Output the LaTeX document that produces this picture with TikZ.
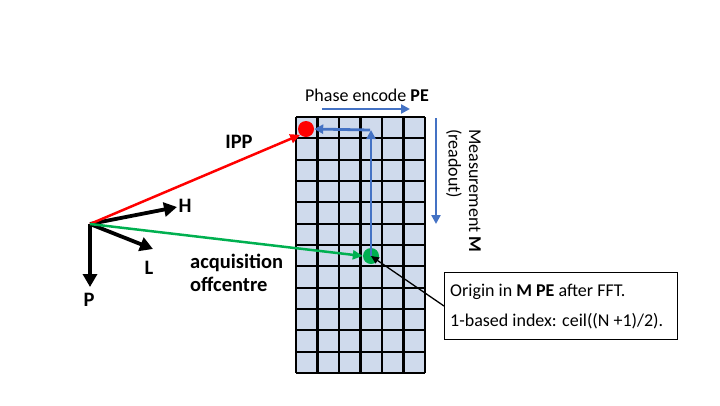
\documentclass[tikz,border=0pt]{standalone}
\usepackage{fontspec}
\setmainfont{Carlito}
\usetikzlibrary{arrows.meta}
\definecolor{gridfill}{HTML}{CFDAEC}
\definecolor{myblue}{HTML}{4472C4}
\definecolor{mygreen}{HTML}{00B050}
\tikzset{
  axisarrow/.style={line width=3.8pt,-{Triangle[length=13pt,width=14pt]}},
  bluearrow/.style={myblue,line width=2.8pt,-{Triangle[length=9pt,width=9pt]}},
  vecline/.style={line width=2.5pt,-{Triangle[length=10pt,width=9pt]}},
  boldlabel/.style={font=\fontsize{20.5}{23}\selectfont\bfseries,inner sep=0pt},
  plainlabel/.style={font=\fontsize{18}{21}\selectfont,inner sep=0pt},
}
\begin{document}
\begin{tikzpicture}[x=1pt,y=-1pt]
\useasboundingbox (0,0) rectangle (720,405);
% grid
\fill[gridfill] (296,117) rectangle (425,373);
\foreach \i in {0,...,6} {
  \draw[line width=2.2pt] ({296+\i*21.5},117) -- ({296+\i*21.5},373);
}
\foreach \j in {0,...,12} {
  \draw[line width=2.2pt] (296,{117+\j*21.333}) -- (425,{117+\j*21.333});
}
% dots
\node[circle,fill=red,minimum size=16pt,inner sep=0pt] (reddot) at (306,129) {};
\node[circle,fill=mygreen,minimum size=16pt,inner sep=0pt] (greendot) at (371,256) {};
% axes
\coordinate (O) at (90,224);
\coordinate (Hend) at (177,207);
\coordinate (Lend) at (153,249);
\coordinate (Pend) at (90,287);
\draw[axisarrow] (O) -- (Hend);
\draw[axisarrow] (O) -- (Lend);
\draw[axisarrow] (O) -- (Pend);
\node[boldlabel] (H) at (185,206) {H};
\node[boldlabel] (L) at (149,268) {L};
\node[boldlabel] (P) at (89,300) {P};
% vectors
\draw[vecline,red] (O) -- (reddot.south west);
\draw[vecline,mygreen] (O) -- (greendot.west);
\node[boldlabel] (IPP) at (239,142) {IPP};
\node[boldlabel,anchor=west,align=left] (acq) at (190,273) {acquisition\\offcentre};
% blue arrows
\coordinate (peA) at (322,109);
\coordinate (peB) at (410,109);
\draw[bluearrow] (peA) -- (peB);
\node[plainlabel] (pe) at (367,95) {Phase encode \textbf{PE}};
\coordinate (mA) at (436,118);
\coordinate (mB) at (436,224);
\draw[bluearrow] (mA) -- (mB);
\node[plainlabel,rotate=-90,anchor=west] (meas) at (475,129) {Measurement \textbf{M}};
\node[plainlabel,rotate=-90,anchor=west] (readout) at (454,129) {(readout)};
\coordinate (corner) at (371,130);
\coordinate (cornerL) at (370,130);
\draw[bluearrow] (greendot.center) -- (corner);
\draw[bluearrow] (cornerL) -- (reddot.east);
% box
\node[draw,line width=1pt,fill=white,minimum width=233pt,minimum height=67pt,anchor=north west] (box) at (444,272) {};
\node[plainlabel,anchor=west] (t1) at (450,292) {Origin in \textbf{M PE} after FFT.};
\node[plainlabel,anchor=west] (t2) at (450,321) {1-based index: ceil((N +1)/2).};
\draw[line width=1.3pt,-{Triangle[length=8pt,width=7pt]}] (box.west) -- (greendot.center);
\end{tikzpicture}
\end{document}
